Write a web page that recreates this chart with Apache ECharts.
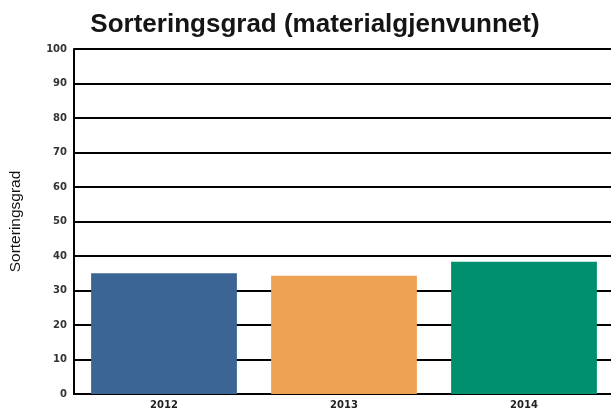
<!DOCTYPE html>
<html>
<head>
<meta charset="utf-8">
<script src="https://cdn.jsdelivr.net/npm/echarts@6/dist/echarts.min.js"></script>
<style>
  html, body { margin: 0; padding: 0; background: #fff; }
  #chart { width: 611px; height: 415px; }
</style>
</head>
<body>
<div id="chart"></div>
<script>
// data
var years = ['2012', '2013', '2014'];
var grad = [35.0, 34.3, 38.3];
var barColors = ['#3b6595', '#eea254', '#00906d'];
var yTicks = [0, 10, 20, 30, 40, 50, 60, 70, 80, 90, 100];

var chart = echarts.init(document.getElementById('chart'));
chart.setOption({
    animation: false,
    title: {
        text: 'Sorteringsgrad (materialgjenvunnet)',
        left: 310,
        textAlign: 'center',
        top: 7,
        textStyle: { fontFamily: 'Liberation Sans', fontSize: 26, fontWeight: 'bold', color: '#151515' }
    },
    grid: { left: 74, top: 49, width: 540, height: 345, containLabel: false, outerBoundsMode: 'none' },
    xAxis: {
        type: 'category',
        data: years,
        axisLine: { lineStyle: { color: '#000', width: 2 } },
        axisTick: { show: false },
        axisLabel: { fontFamily: 'DejaVu Sans', fontSize: 10, fontWeight: 'bold', color: '#222', margin: 6 }
    },
    yAxis: {
        type: 'value',
        min: yTicks[0],
        max: yTicks[yTicks.length - 1],
        interval: 10,
        name: 'Sorteringsgrad',
        nameLocation: 'middle',
        nameGap: 50,
        nameTextStyle: { fontFamily: 'Liberation Sans', fontSize: 15.5, color: '#111' },
        axisLine: { show: true, lineStyle: { color: '#000', width: 2 } },
        axisTick: { show: false },
        splitLine: { lineStyle: { color: '#000', width: 2 } },
        axisLabel: { fontFamily: 'DejaVu Sans', fontSize: 10, fontWeight: 'bold', color: '#333', margin: 7 }
    },
    series: [{
        type: 'bar',
        data: grad.map(function (v, i) {
            return { value: v, itemStyle: { color: barColors[i] } };
        }),
        barCategoryGap: '19%',
        z: 3
    }]
});
</script>
</body>
</html>
